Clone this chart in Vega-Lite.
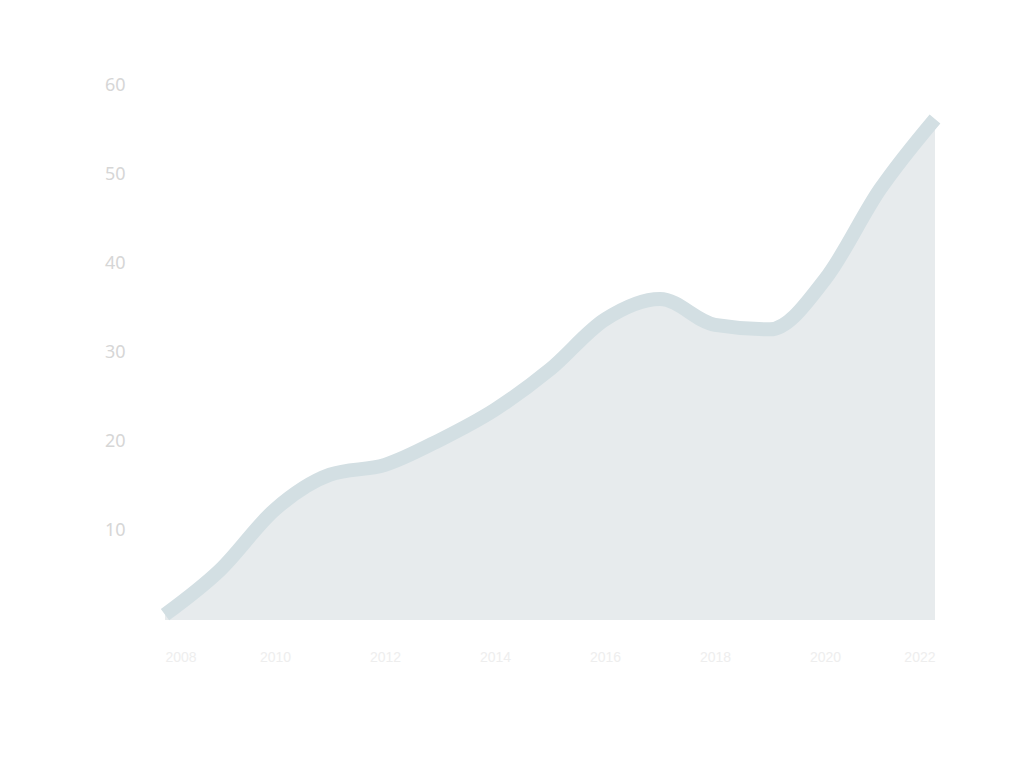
{
  "$schema": "https://vega.github.io/schema/vega-lite/v6.json",
  "width": 770,
  "height": 535,
  "autosize": "none",
  "padding": {"left": 165, "top": 85, "right": 89, "bottom": 148},
  "background": "#ffffff",
  "data": {
    "values": [
      {"year": 2008, "value": 0.6},
      {"year": 2009, "value": 5.6},
      {"year": 2010, "value": 12.4},
      {"year": 2011, "value": 16.3},
      {"year": 2012, "value": 17.4},
      {"year": 2013, "value": 20.2},
      {"year": 2014, "value": 23.6},
      {"year": 2015, "value": 28.1},
      {"year": 2016, "value": 33.7},
      {"year": 2017, "value": 36.0},
      {"year": 2018, "value": 33.1},
      {"year": 2019, "value": 32.6},
      {"year": 2020, "value": 38.2},
      {"year": 2021, "value": 48.3},
      {"year": 2022, "value": 56.2}
    ]
  },
  "encoding": {
    "x": {
      "field": "year",
      "type": "quantitative",
      "scale": {"domain": [2008, 2022], "nice": false, "zero": false},
      "axis": {"format": "d", "tickCount": 8, "title": null, "domain": false, "ticks": false, "grid": false, "labelColor": "#eeeeee", "labelFontSize": 14, "labelPadding": 30}
    },
    "y": {
      "field": "value",
      "type": "quantitative",
      "scale": {"domain": [0, 60]},
      "axis": {"values": [10, 20, 30, 40, 50, 60], "title": null, "domain": false, "ticks": false, "grid": false, "labelColor": "#d6d6d6", "labelFontSize": 18, "labelPadding": 40, "labelFont": "Noto Sans"}
    }
  },
  "layer": [
    {"mark": {"type": "area", "color": "#e7ebed", "interpolate": "monotone"}},
    {"mark": {"type": "line", "color": "#d3dfe3", "strokeWidth": 14, "interpolate": "monotone"}}
  ],
  "config": {"view": {"stroke": null}}
}
